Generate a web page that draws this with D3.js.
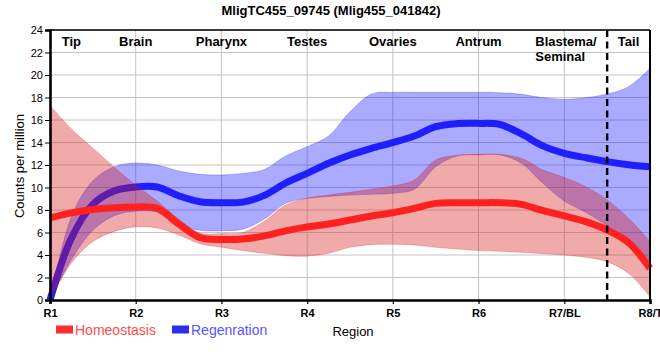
<!DOCTYPE html>
<html>
<head>
<meta charset="utf-8">
<script src="https://cdn.jsdelivr.net/npm/d3@7"></script>
<style>
  html, body { margin: 0; padding: 0; background: #fff; }
  svg { display: block; font-family: "Liberation Sans", Arial, sans-serif; }
</style>
</head>
<body>
<svg id="chart" width="660" height="360"></svg>
<script>
// ---- data ----
const title = "MligTC455_09745 (Mlig455_041842)";
const regionTicks = ["R1", "R2", "R3", "R4", "R5", "R6", "R7/BL", "R8/T"];
const regionTickPos = [1, 2, 3, 4, 5, 6, 7, 8];
const tissueNames = ["Tip", "Brain", "Pharynx", "Testes", "Ovaries", "Antrum", "Blastema/|Seminal", "Tail"];
const tissuePos = [1.25, 2, 3, 4, 5, 6, 7, 7.75];
const dividerPos = [7.5];
const yTicks = [0, 2, 4, 6, 8, 10, 12, 14, 16, 18, 20, 22, 24];

const samplePos = [1, 1.25, 1.5, 1.75, 2, 2.25, 2.5, 2.75, 3, 3.25, 3.5, 3.75, 4, 4.25, 4.5, 4.75,
                   5, 5.25, 5.5, 5.75, 6, 6.25, 6.5, 6.75, 7, 7.25, 7.5, 7.75, 8];

const homeoMean  = [7.3, 7.75, 8.05, 8.2, 8.27, 8.15, 6.76, 5.54, 5.38, 5.42, 5.7, 6.15, 6.5, 6.76, 7.11, 7.47,
                    7.76, 8.15, 8.59, 8.65, 8.65, 8.65, 8.5, 7.94, 7.47, 6.96, 6.22, 5.1, 2.81];
const homeoUpper = [17.3, 15.2, 13.5, 11.8, 10.2, 8.8, 7.2, 5.95, 5.9, 6.0, 7.0, 8.45, 9.05, 9.33, 9.57, 9.84,
                    10.13, 10.67, 12.44, 12.86, 12.95, 12.95, 12.6, 11.56, 10.9, 10.07, 8.9, 7.26, 5.19];
const homeoLower = [0, 3.3, 5.2, 6.1, 6.5, 6.4, 5.8, 5.0, 4.7, 4.4, 4.15, 3.94, 3.9, 4.15, 4.68, 4.92,
                    4.95, 4.89, 4.68, 4.53, 4.39, 4.33, 4.24, 4.12, 4.0, 3.8, 3.41, 2.37, 0.3];

const regenMean  = [0, 5.5, 8.5, 9.7, 10.05, 10.04, 9.27, 8.74, 8.65, 8.7, 9.3, 10.4, 11.25, 12.15, 12.89, 13.48,
                    13.99, 14.58, 15.41, 15.68, 15.7, 15.6, 14.76, 13.7, 13.04, 12.65, 12.3, 12.03, 11.85];
const regenUpper = [0, 7.4, 10.6, 11.85, 12.18, 12.0, 11.47, 11.17, 11.11, 11.25, 11.6, 12.8, 13.63, 14.58, 16.74, 18.3,
                    18.46, 18.46, 18.46, 18.46, 18.46, 18.43, 18.28, 17.98, 17.84, 17.98, 18.31, 18.96, 20.6];
const regenLower = [0, 3.6, 6.2, 7.5, 7.9, 7.8, 6.7, 6.2, 6.16, 6.3, 7.2, 8.6, 9.04, 9.19, 9.33, 9.39,
                    9.48, 9.84, 11.85, 12.8, 12.9, 12.9, 12.15, 10.37, 8.8, 7.8, 6.6, 5.1, 3.1];

const seriesNames = ["Homeostasis", "Regenration"];

// ---- layout ----
const svg = d3.select("#chart");
const W = 660, H = 360;
const plot = { left: 50, right: 650, top: 30, bottom: 300 };

const x = d3.scaleLinear().domain([1, 8]).range([plot.left, plot.right]);
const y = d3.scaleLinear().domain([0, 24]).range([plot.bottom, plot.top]);

svg.append("rect").attr("width", W).attr("height", H).attr("fill", "#fff");

// title
svg.append("text")
  .attr("x", 331).attr("y", 15)
  .attr("text-anchor", "middle")
  .attr("font-size", 13).attr("font-weight", "bold")
  .text(title);

// gridlines
const grid = svg.append("g");
grid.selectAll("line.h").data(yTicks.filter(d => d > 0)).enter().append("line")
  .attr("x1", plot.left).attr("x2", plot.right)
  .attr("y1", d => y(d)).attr("y2", d => y(d))
  .attr("stroke", "#c4c4c4").attr("stroke-width", 1);
grid.selectAll("line.v").data(regionTickPos.slice(1, -1)).enter().append("line")
  .attr("x1", d => x(d)).attr("x2", d => x(d))
  .attr("y1", plot.top).attr("y2", plot.bottom)
  .attr("stroke", "#c4c4c4").attr("stroke-width", 1);

// data helpers
const pts = (arr) => samplePos.map((p, i) => ({ p, v: arr[i] }));
const bandPts = (lo, hi) => samplePos.map((p, i) => ({ p, lo: lo[i], hi: hi[i] }));

const curve = d3.curveCatmullRom.alpha(0.5);
const area = d3.area()
  .x(d => x(d.p)).y0(d => y(Math.max(0, d.lo))).y1(d => y(d.hi))
  .curve(curve);
const line = d3.line()
  .x(d => x(d.p)).y(d => y(d.v))
  .curve(curve);

// regeneration band + line
svg.append("path")
  .datum(bandPts(regenLower, regenUpper))
  .attr("d", area)
  .attr("fill", "rgb(20,20,255)").attr("fill-opacity", 0.36)
  .attr("stroke", "rgb(20,20,255)").attr("stroke-opacity", 0.25).attr("stroke-width", 1);
svg.append("path")
  .datum(pts(regenMean))
  .attr("d", line)
  .attr("fill", "none").attr("stroke", "rgb(30,30,255)").attr("stroke-width", 7);

// homeostasis band + line
svg.append("path")
  .datum(bandPts(homeoLower, homeoUpper))
  .attr("d", area)
  .attr("fill", "rgb(215,25,25)").attr("fill-opacity", 0.37)
  .attr("stroke", "rgb(215,25,25)").attr("stroke-opacity", 0.25).attr("stroke-width", 1);
svg.append("path")
  .datum(pts(homeoMean))
  .attr("d", line)
  .attr("fill", "none").attr("stroke", "rgb(255,32,32)").attr("stroke-width", 7);

// frame (top and right)
svg.append("line").attr("x1", plot.left).attr("x2", plot.right)
  .attr("y1", plot.top).attr("y2", plot.top).attr("stroke", "#000").attr("stroke-width", 1.6);
svg.append("line").attr("x1", plot.right).attr("x2", plot.right)
  .attr("y1", plot.top).attr("y2", plot.bottom).attr("stroke", "#000").attr("stroke-width", 2);

// divider
svg.selectAll("line.div").data(dividerPos).enter().append("line")
  .attr("x1", d => x(d)).attr("x2", d => x(d))
  .attr("y1", plot.top).attr("y2", plot.bottom)
  .attr("stroke", "#000").attr("stroke-width", 2.4).attr("stroke-dasharray", "7,4.5");

// y axis
const yAxis = d3.axisLeft(y).tickValues(yTicks).tickSize(5).tickPadding(2).tickFormat(d3.format("d"));
const gy = svg.append("g").attr("transform", `translate(${plot.left},0)`).call(yAxis);
gy.select(".domain").attr("stroke", "#000").attr("stroke-width", 2.6);
gy.selectAll(".tick line").attr("stroke", "#000").attr("stroke-width", 1);
gy.selectAll(".tick text").attr("font-size", 11).attr("font-family", "Liberation Sans, Arial, sans-serif").attr("fill", "#000");

// x axis
const xAxis = d3.axisBottom(x).tickValues(regionTickPos).tickSize(4).tickPadding(5)
  .tickFormat((d, i) => regionTicks[i]);
const gx = svg.append("g").attr("transform", `translate(0,${plot.bottom})`).call(xAxis);
gx.select(".domain").attr("stroke", "#000").attr("stroke-width", 2.6);
gx.selectAll(".tick line").attr("stroke", "#000").attr("stroke-width", 1.2);
gx.selectAll(".tick text").attr("font-size", 11).attr("font-weight", "bold")
  .attr("font-family", "Liberation Sans, Arial, sans-serif").attr("fill", "#000");

// y title
svg.append("text")
  .attr("transform", `translate(24,166) rotate(-90)`)
  .attr("text-anchor", "middle")
  .attr("font-size", 13)
  .text("Counts per million");

// tissue labels
const tl = svg.append("g");
tissueNames.forEach((name, i) => {
  const parts = name.split("|");
  const multi = parts.length > 1;
  const t = tl.append("text")
    .attr("x", x(tissuePos[i])).attr("y", 46)
    .attr("text-anchor", multi ? "start" : "middle")
    .attr("font-size", 13).attr("font-weight", "bold");
  parts.forEach((pt, j) => {
    t.append("tspan").attr("x", multi ? x(tissuePos[i]) - 29 : x(tissuePos[i]))
      .attr("dy", j === 0 ? 0 : 14.5).text(pt);
  });
});

// legend
const legendColors = ["rgb(255,45,45)", "rgb(45,45,240)"];
const legendText = ["rgb(255,75,75)", "rgb(85,85,255)"];
const legendX = [56, 172];
seriesNames.forEach((s, i) => {
  svg.append("rect").attr("x", legendX[i]).attr("y", 325.5).attr("width", 17).attr("height", 8)
    .attr("fill", legendColors[i]);
  svg.append("text").attr("x", legendX[i] + 19).attr("y", 335)
    .attr("font-size", 14).attr("fill", legendText[i]).text(s);
});
svg.append("text").attr("x", 353).attr("y", 336).attr("text-anchor", "middle")
  .attr("font-size", 13).attr("fill", "#000").text("Region");
</script>
</body>
</html>
